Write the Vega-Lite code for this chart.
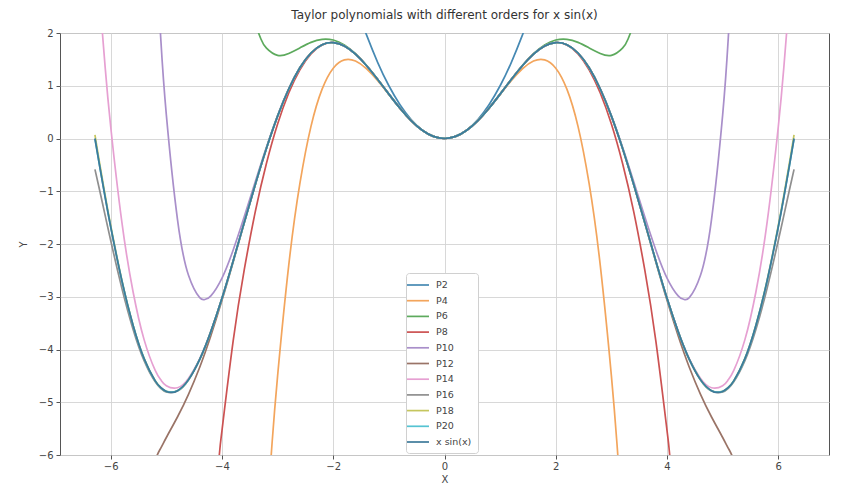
{
"$schema": "https://vega.github.io/schema/vega-lite/v6.json",
"width": 769, "height": 422,
"autosize": {"type": "none"},
"padding": {"left": 60, "top": 33, "right": 19, "bottom": 33},
"background": "#ffffff",
"title": {"text": "Taylor polynomials with different orders for x sin(x)", "fontSize": 12, "font": "DejaVu Sans", "fontWeight": "normal", "color": "#333333", "offset": 6},
"config": {
  "view": {"stroke": "#555555", "strokeWidth": 1},
  "axis": {"domain": false, "grid": true, "gridColor": "#d4d4d4", "gridWidth": 0.9, "tickColor": "#555555", "tickSize": 4, "labelFont": "DejaVu Sans", "labelFontSize": 10, "labelColor": "#444444", "titleFont": "DejaVu Sans", "titleFontSize": 10, "titleFontWeight": "normal", "titleColor": "#444444"}
},
"data": {"values": [
{"s":"P2","x":-1.5,"y":2.25},{"s":"P2","x":-1.4,"y":1.96},{"s":"P2","x":-1.2,"y":1.44},{"s":"P2","x":-1,"y":1},{"s":"P2","x":-0.8,"y":0.64},{"s":"P2","x":-0.6,"y":0.36},{"s":"P2","x":-0.4,"y":0.16},{"s":"P2","x":-0.2,"y":0.04},{"s":"P2","x":0,"y":0},{"s":"P2","x":0.2,"y":0.04},{"s":"P2","x":0.4,"y":0.16},{"s":"P2","x":0.6,"y":0.36},{"s":"P2","x":0.8,"y":0.64},{"s":"P2","x":1,"y":1},{"s":"P2","x":1.2,"y":1.44},{"s":"P2","x":1.4,"y":1.96},{"s":"P2","x":1.5,"y":2.25},

{"s":"P4","x":-3.2,"y":-7.2363},{"s":"P4","x":-3.1,"y":-5.782},{"s":"P4","x":-3,"y":-4.5},{"s":"P4","x":-2.8,"y":-2.4043},{"s":"P4","x":-2.6,"y":-0.8563},{"s":"P4","x":-2.4,"y":0.2304},{"s":"P4","x":-2.2,"y":0.9357},{"s":"P4","x":-2,"y":1.3333},{"s":"P4","x":-1.8,"y":1.4904},{"s":"P4","x":-1.6,"y":1.4677},{"s":"P4","x":-1.4,"y":1.3197},{"s":"P4","x":-1.2,"y":1.0944},{"s":"P4","x":-1,"y":0.8333},{"s":"P4","x":-0.8,"y":0.5717},{"s":"P4","x":-0.6,"y":0.3384},{"s":"P4","x":-0.4,"y":0.1557},{"s":"P4","x":-0.2,"y":0.0397},{"s":"P4","x":0,"y":0},{"s":"P4","x":0.2,"y":0.0397},{"s":"P4","x":0.4,"y":0.1557},{"s":"P4","x":0.6,"y":0.3384},{"s":"P4","x":0.8,"y":0.5717},{"s":"P4","x":1,"y":0.8333},{"s":"P4","x":1.2,"y":1.0944},{"s":"P4","x":1.4,"y":1.3197},{"s":"P4","x":1.6,"y":1.4677},{"s":"P4","x":1.8,"y":1.4904},{"s":"P4","x":2,"y":1.3333},{"s":"P4","x":2.2,"y":0.9357},{"s":"P4","x":2.4,"y":0.2304},{"s":"P4","x":2.6,"y":-0.8563},{"s":"P4","x":2.8,"y":-2.4043},{"s":"P4","x":3,"y":-4.5},{"s":"P4","x":3.1,"y":-5.782},{"s":"P4","x":3.2,"y":-7.2363},

{"s":"P6","x":-3.4,"y":2.1611},{"s":"P6","x":-3.3,"y":1.8869},{"s":"P6","x":-3.2,"y":1.7116},{"s":"P6","x":-3,"y":1.575},{"s":"P6","x":-2.8,"y":1.6115},{"s":"P6","x":-2.6,"y":1.718},{"s":"P6","x":-2.4,"y":1.8229},{"s":"P6","x":-2.2,"y":1.8806},{"s":"P6","x":-2,"y":1.8667},{"s":"P6","x":-1.8,"y":1.7738},{"s":"P6","x":-1.6,"y":1.6075},{"s":"P6","x":-1.4,"y":1.3825},{"s":"P6","x":-1.2,"y":1.1193},{"s":"P6","x":-1,"y":0.8417},{"s":"P6","x":-0.8,"y":0.5739},{"s":"P6","x":-0.6,"y":0.3388},{"s":"P6","x":-0.4,"y":0.1558},{"s":"P6","x":-0.2,"y":0.0397},{"s":"P6","x":0,"y":0},{"s":"P6","x":0.2,"y":0.0397},{"s":"P6","x":0.4,"y":0.1558},{"s":"P6","x":0.6,"y":0.3388},{"s":"P6","x":0.8,"y":0.5739},{"s":"P6","x":1,"y":0.8417},{"s":"P6","x":1.2,"y":1.1193},{"s":"P6","x":1.4,"y":1.3825},{"s":"P6","x":1.6,"y":1.6075},{"s":"P6","x":1.8,"y":1.7738},{"s":"P6","x":2,"y":1.8667},{"s":"P6","x":2.2,"y":1.8806},{"s":"P6","x":2.4,"y":1.8229},{"s":"P6","x":2.6,"y":1.718},{"s":"P6","x":2.8,"y":1.6115},{"s":"P6","x":3,"y":1.575},{"s":"P6","x":3.2,"y":1.7116},{"s":"P6","x":3.3,"y":1.8869},{"s":"P6","x":3.4,"y":2.1611},

{"s":"P8","x":-4.2,"y":-7.6913},{"s":"P8","x":-4.05,"y":-6.025},{"s":"P8","x":-4,"y":-5.5365},{"s":"P8","x":-3.8,"y":-3.8477},{"s":"P8","x":-3.6,"y":-2.4912},{"s":"P8","x":-3.4,"y":-1.3821},{"s":"P8","x":-3.2,"y":-0.47},{"s":"P8","x":-3,"y":0.2732},{"s":"P8","x":-2.8,"y":0.8619},{"s":"P8","x":-2.6,"y":1.3037},{"s":"P8","x":-2.4,"y":1.6045},{"s":"P8","x":-2.2,"y":1.7717},{"s":"P8","x":-2,"y":1.8159},{"s":"P8","x":-1.8,"y":1.752},{"s":"P8","x":-1.6,"y":1.599},{"s":"P8","x":-1.4,"y":1.3796},{"s":"P8","x":-1.2,"y":1.1184},{"s":"P8","x":-1,"y":0.8415},{"s":"P8","x":-0.8,"y":0.5739},{"s":"P8","x":-0.6,"y":0.3388},{"s":"P8","x":-0.4,"y":0.1558},{"s":"P8","x":-0.2,"y":0.0397},{"s":"P8","x":0,"y":0},{"s":"P8","x":0.2,"y":0.0397},{"s":"P8","x":0.4,"y":0.1558},{"s":"P8","x":0.6,"y":0.3388},{"s":"P8","x":0.8,"y":0.5739},{"s":"P8","x":1,"y":0.8415},{"s":"P8","x":1.2,"y":1.1184},{"s":"P8","x":1.4,"y":1.3796},{"s":"P8","x":1.6,"y":1.599},{"s":"P8","x":1.8,"y":1.752},{"s":"P8","x":2,"y":1.8159},{"s":"P8","x":2.2,"y":1.7717},{"s":"P8","x":2.4,"y":1.6045},{"s":"P8","x":2.6,"y":1.3037},{"s":"P8","x":2.8,"y":0.8619},{"s":"P8","x":3,"y":0.2732},{"s":"P8","x":3.2,"y":-0.47},{"s":"P8","x":3.4,"y":-1.3821},{"s":"P8","x":3.6,"y":-2.4912},{"s":"P8","x":3.8,"y":-3.8477},{"s":"P8","x":4,"y":-5.5365},{"s":"P8","x":4.05,"y":-6.025},{"s":"P8","x":4.2,"y":-7.6913},

{"s":"P10","x":-5.2,"y":3.6994},{"s":"P10","x":-5.1,"y":1.8879},{"s":"P10","x":-5,"y":0.4482},{"s":"P10","x":-4.8,"y":-1.5317},{"s":"P10","x":-4.6,"y":-2.5988},{"s":"P10","x":-4.4,"y":-3.0176},{"s":"P10","x":-4.3,"y":-3.0473},{"s":"P10","x":-4.2,"y":-2.9844},{"s":"P10","x":-4,"y":-2.6469},{"s":"P10","x":-3.8,"y":-2.1176},{"s":"P10","x":-3.6,"y":-1.4836},{"s":"P10","x":-3.4,"y":-0.8132},{"s":"P10","x":-3.2,"y":-0.1597},{"s":"P10","x":-3,"y":0.4359},{"s":"P10","x":-2.8,"y":0.9435},{"s":"P10","x":-2.6,"y":1.3426},{"s":"P10","x":-2.4,"y":1.622},{"s":"P10","x":-2.2,"y":1.779},{"s":"P10","x":-2,"y":1.8187},{"s":"P10","x":-1.8,"y":1.753},{"s":"P10","x":-1.6,"y":1.5993},{"s":"P10","x":-1.4,"y":1.3796},{"s":"P10","x":-1.2,"y":1.1184},{"s":"P10","x":-1,"y":0.8415},{"s":"P10","x":-0.8,"y":0.5739},{"s":"P10","x":-0.6,"y":0.3388},{"s":"P10","x":-0.4,"y":0.1558},{"s":"P10","x":-0.2,"y":0.0397},{"s":"P10","x":0,"y":0},{"s":"P10","x":0.2,"y":0.0397},{"s":"P10","x":0.4,"y":0.1558},{"s":"P10","x":0.6,"y":0.3388},{"s":"P10","x":0.8,"y":0.5739},{"s":"P10","x":1,"y":0.8415},{"s":"P10","x":1.2,"y":1.1184},{"s":"P10","x":1.4,"y":1.3796},{"s":"P10","x":1.6,"y":1.5993},{"s":"P10","x":1.8,"y":1.753},{"s":"P10","x":2,"y":1.8187},{"s":"P10","x":2.2,"y":1.779},{"s":"P10","x":2.4,"y":1.622},{"s":"P10","x":2.6,"y":1.3426},{"s":"P10","x":2.8,"y":0.9435},{"s":"P10","x":3,"y":0.4359},{"s":"P10","x":3.2,"y":-0.1597},{"s":"P10","x":3.4,"y":-0.8132},{"s":"P10","x":3.6,"y":-1.4836},{"s":"P10","x":3.8,"y":-2.1176},{"s":"P10","x":4,"y":-2.6469},{"s":"P10","x":4.2,"y":-2.9844},{"s":"P10","x":4.3,"y":-3.0473},{"s":"P10","x":4.4,"y":-3.0176},{"s":"P10","x":4.6,"y":-2.5988},{"s":"P10","x":4.8,"y":-1.5317},{"s":"P10","x":5,"y":0.4482},{"s":"P10","x":5.1,"y":1.8879},{"s":"P10","x":5.2,"y":3.6994},

{"s":"P12","x":-5.4,"y":-6.6915},{"s":"P12","x":-5.2,"y":-6.0929},{"s":"P12","x":-5.1,"y":-5.869},{"s":"P12","x":-5,"y":-5.6681},{"s":"P12","x":-4.8,"y":-5.2792},{"s":"P12","x":-4.6,"y":-4.8475},{"s":"P12","x":-4.4,"y":-4.3367},{"s":"P12","x":-4.3,"y":-4.0484},{"s":"P12","x":-4.2,"y":-3.7392},{"s":"P12","x":-4,"y":-3.0672},{"s":"P12","x":-3.8,"y":-2.3447},{"s":"P12","x":-3.6,"y":-1.6024},{"s":"P12","x":-3.4,"y":-0.873},{"s":"P12","x":-3.2,"y":-0.1886},{"s":"P12","x":-3,"y":0.4226},{"s":"P12","x":-2.8,"y":0.9377},{"s":"P12","x":-2.6,"y":1.3402},{"s":"P12","x":-2.4,"y":1.6211},{"s":"P12","x":-2.2,"y":1.7787},{"s":"P12","x":-2,"y":1.8186},{"s":"P12","x":-1.8,"y":1.7529},{"s":"P12","x":-1.6,"y":1.5993},{"s":"P12","x":-1.4,"y":1.3796},{"s":"P12","x":-1.2,"y":1.1184},{"s":"P12","x":-1,"y":0.8415},{"s":"P12","x":-0.8,"y":0.5739},{"s":"P12","x":-0.6,"y":0.3388},{"s":"P12","x":-0.4,"y":0.1558},{"s":"P12","x":-0.2,"y":0.0397},{"s":"P12","x":0,"y":0},{"s":"P12","x":0.2,"y":0.0397},{"s":"P12","x":0.4,"y":0.1558},{"s":"P12","x":0.6,"y":0.3388},{"s":"P12","x":0.8,"y":0.5739},{"s":"P12","x":1,"y":0.8415},{"s":"P12","x":1.2,"y":1.1184},{"s":"P12","x":1.4,"y":1.3796},{"s":"P12","x":1.6,"y":1.5993},{"s":"P12","x":1.8,"y":1.7529},{"s":"P12","x":2,"y":1.8186},{"s":"P12","x":2.2,"y":1.7787},{"s":"P12","x":2.4,"y":1.6211},{"s":"P12","x":2.6,"y":1.3402},{"s":"P12","x":2.8,"y":0.9377},{"s":"P12","x":3,"y":0.4226},{"s":"P12","x":3.2,"y":-0.1886},{"s":"P12","x":3.4,"y":-0.873},{"s":"P12","x":3.6,"y":-1.6024},{"s":"P12","x":3.8,"y":-2.3447},{"s":"P12","x":4,"y":-3.0672},{"s":"P12","x":4.2,"y":-3.7392},{"s":"P12","x":4.3,"y":-4.0484},{"s":"P12","x":4.4,"y":-4.3367},{"s":"P12","x":4.6,"y":-4.8475},{"s":"P12","x":4.8,"y":-5.2792},{"s":"P12","x":5,"y":-5.6681},{"s":"P12","x":5.1,"y":-5.869},{"s":"P12","x":5.2,"y":-6.0929},{"s":"P12","x":5.4,"y":-6.6915},

{"s":"P14","x":-6.2,"y":2.6682},{"s":"P14","x":-6.1,"y":1.3532},{"s":"P14","x":-6,"y":0.223},{"s":"P14","x":-5.8,"y":-1.5815},{"s":"P14","x":-5.6,"y":-2.8952},{"s":"P14","x":-5.4,"y":-3.8126},{"s":"P14","x":-5.2,"y":-4.3955},{"s":"P14","x":-5.1,"y":-4.5757},{"s":"P14","x":-5,"y":-4.6879},{"s":"P14","x":-4.8,"y":-4.7257},{"s":"P14","x":-4.6,"y":-4.5425},{"s":"P14","x":-4.4,"y":-4.173},{"s":"P14","x":-4.3,"y":-3.9297},{"s":"P14","x":-4.2,"y":-3.6539},{"s":"P14","x":-4,"y":-3.0241},{"s":"P14","x":-3.8,"y":-2.3237},{"s":"P14","x":-3.6,"y":-1.5925},{"s":"P14","x":-3.4,"y":-0.8686},{"s":"P14","x":-3.2,"y":-0.1867},{"s":"P14","x":-3,"y":0.4234},{"s":"P14","x":-2.8,"y":0.938},{"s":"P14","x":-2.6,"y":1.3403},{"s":"P14","x":-2.4,"y":1.6211},{"s":"P14","x":-2.2,"y":1.7787},{"s":"P14","x":-2,"y":1.8186},{"s":"P14","x":-1.8,"y":1.7529},{"s":"P14","x":-1.6,"y":1.5993},{"s":"P14","x":-1.4,"y":1.3796},{"s":"P14","x":-1.2,"y":1.1184},{"s":"P14","x":-1,"y":0.8415},{"s":"P14","x":-0.8,"y":0.5739},{"s":"P14","x":-0.6,"y":0.3388},{"s":"P14","x":-0.4,"y":0.1558},{"s":"P14","x":-0.2,"y":0.0397},{"s":"P14","x":0,"y":0},{"s":"P14","x":0.2,"y":0.0397},{"s":"P14","x":0.4,"y":0.1558},{"s":"P14","x":0.6,"y":0.3388},{"s":"P14","x":0.8,"y":0.5739},{"s":"P14","x":1,"y":0.8415},{"s":"P14","x":1.2,"y":1.1184},{"s":"P14","x":1.4,"y":1.3796},{"s":"P14","x":1.6,"y":1.5993},{"s":"P14","x":1.8,"y":1.7529},{"s":"P14","x":2,"y":1.8186},{"s":"P14","x":2.2,"y":1.7787},{"s":"P14","x":2.4,"y":1.6211},{"s":"P14","x":2.6,"y":1.3403},{"s":"P14","x":2.8,"y":0.938},{"s":"P14","x":3,"y":0.4234},{"s":"P14","x":3.2,"y":-0.1867},{"s":"P14","x":3.4,"y":-0.8686},{"s":"P14","x":3.6,"y":-1.5925},{"s":"P14","x":3.8,"y":-2.3237},{"s":"P14","x":4,"y":-3.0241},{"s":"P14","x":4.2,"y":-3.6539},{"s":"P14","x":4.3,"y":-3.9297},{"s":"P14","x":4.4,"y":-4.173},{"s":"P14","x":4.6,"y":-4.5425},{"s":"P14","x":4.8,"y":-4.7257},{"s":"P14","x":5,"y":-4.6879},{"s":"P14","x":5.1,"y":-4.5757},{"s":"P14","x":5.2,"y":-4.3955},{"s":"P14","x":5.4,"y":-3.8126},{"s":"P14","x":5.6,"y":-2.8952},{"s":"P14","x":5.8,"y":-1.5815},{"s":"P14","x":6,"y":0.223},{"s":"P14","x":6.1,"y":1.3532},{"s":"P14","x":6.2,"y":2.6682},

{"s":"P16","x":-6.2832,"y":-0.5859},{"s":"P16","x":-6.2,"y":-0.9774},{"s":"P16","x":-6.1,"y":-1.4573},{"s":"P16","x":-6,"y":-1.9344},{"s":"P16","x":-5.8,"y":-2.8357},{"s":"P16","x":-5.6,"y":-3.6105},{"s":"P16","x":-5.4,"y":-4.2124},{"s":"P16","x":-5.2,"y":-4.6141},{"s":"P16","x":-5.1,"y":-4.7359},{"s":"P16","x":-5,"y":-4.8046},{"s":"P16","x":-4.8,"y":-4.7864},{"s":"P16","x":-4.6,"y":-4.5732},{"s":"P16","x":-4.4,"y":-4.1881},{"s":"P16","x":-4.3,"y":-3.9402},{"s":"P16","x":-4.2,"y":-3.6611},{"s":"P16","x":-4,"y":-3.0274},{"s":"P16","x":-3.8,"y":-2.3251},{"s":"P16","x":-3.6,"y":-1.5931},{"s":"P16","x":-3.4,"y":-0.8688},{"s":"P16","x":-3.2,"y":-0.1868},{"s":"P16","x":-3,"y":0.4234},{"s":"P16","x":-2.8,"y":0.938},{"s":"P16","x":-2.6,"y":1.3403},{"s":"P16","x":-2.4,"y":1.6211},{"s":"P16","x":-2.2,"y":1.7787},{"s":"P16","x":-2,"y":1.8186},{"s":"P16","x":-1.8,"y":1.7529},{"s":"P16","x":-1.6,"y":1.5993},{"s":"P16","x":-1.4,"y":1.3796},{"s":"P16","x":-1.2,"y":1.1184},{"s":"P16","x":-1,"y":0.8415},{"s":"P16","x":-0.8,"y":0.5739},{"s":"P16","x":-0.6,"y":0.3388},{"s":"P16","x":-0.4,"y":0.1558},{"s":"P16","x":-0.2,"y":0.0397},{"s":"P16","x":0,"y":0},{"s":"P16","x":0.2,"y":0.0397},{"s":"P16","x":0.4,"y":0.1558},{"s":"P16","x":0.6,"y":0.3388},{"s":"P16","x":0.8,"y":0.5739},{"s":"P16","x":1,"y":0.8415},{"s":"P16","x":1.2,"y":1.1184},{"s":"P16","x":1.4,"y":1.3796},{"s":"P16","x":1.6,"y":1.5993},{"s":"P16","x":1.8,"y":1.7529},{"s":"P16","x":2,"y":1.8186},{"s":"P16","x":2.2,"y":1.7787},{"s":"P16","x":2.4,"y":1.6211},{"s":"P16","x":2.6,"y":1.3403},{"s":"P16","x":2.8,"y":0.938},{"s":"P16","x":3,"y":0.4234},{"s":"P16","x":3.2,"y":-0.1868},{"s":"P16","x":3.4,"y":-0.8688},{"s":"P16","x":3.6,"y":-1.5931},{"s":"P16","x":3.8,"y":-2.3251},{"s":"P16","x":4,"y":-3.0274},{"s":"P16","x":4.2,"y":-3.6611},{"s":"P16","x":4.3,"y":-3.9402},{"s":"P16","x":4.4,"y":-4.1881},{"s":"P16","x":4.6,"y":-4.5732},{"s":"P16","x":4.8,"y":-4.7864},{"s":"P16","x":5,"y":-4.8046},{"s":"P16","x":5.1,"y":-4.7359},{"s":"P16","x":5.2,"y":-4.6141},{"s":"P16","x":5.4,"y":-4.2124},{"s":"P16","x":5.6,"y":-3.6105},{"s":"P16","x":5.8,"y":-2.8357},{"s":"P16","x":6,"y":-1.9344},{"s":"P16","x":6.1,"y":-1.4573},{"s":"P16","x":6.2,"y":-0.9774},{"s":"P16","x":6.2832,"y":-0.5859},

{"s":"P18","x":-6.2832,"y":0.069},{"s":"P18","x":-6.2,"y":-0.4622},{"s":"P18","x":-6.1,"y":-1.0728},{"s":"P18","x":-6,"y":-1.6488},{"s":"P18","x":-5.8,"y":-2.6806},{"s":"P18","x":-5.6,"y":-3.5281},{"s":"P18","x":-5.4,"y":-4.1695},{"s":"P18","x":-5.2,"y":-4.5924},{"s":"P18","x":-5.1,"y":-4.7206},{"s":"P18","x":-5,"y":-4.7939},{"s":"P18","x":-4.8,"y":-4.7813},{"s":"P18","x":-4.6,"y":-4.5708},{"s":"P18","x":-4.4,"y":-4.187},{"s":"P18","x":-4.3,"y":-3.9395},{"s":"P18","x":-4.2,"y":-3.6606},{"s":"P18","x":-4,"y":-3.0272},{"s":"P18","x":-3.8,"y":-2.3251},{"s":"P18","x":-3.6,"y":-1.5931},{"s":"P18","x":-3.4,"y":-0.8688},{"s":"P18","x":-3.2,"y":-0.1868},{"s":"P18","x":-3,"y":0.4234},{"s":"P18","x":-2.8,"y":0.938},{"s":"P18","x":-2.6,"y":1.3403},{"s":"P18","x":-2.4,"y":1.6211},{"s":"P18","x":-2.2,"y":1.7787},{"s":"P18","x":-2,"y":1.8186},{"s":"P18","x":-1.8,"y":1.7529},{"s":"P18","x":-1.6,"y":1.5993},{"s":"P18","x":-1.4,"y":1.3796},{"s":"P18","x":-1.2,"y":1.1184},{"s":"P18","x":-1,"y":0.8415},{"s":"P18","x":-0.8,"y":0.5739},{"s":"P18","x":-0.6,"y":0.3388},{"s":"P18","x":-0.4,"y":0.1558},{"s":"P18","x":-0.2,"y":0.0397},{"s":"P18","x":0,"y":0},{"s":"P18","x":0.2,"y":0.0397},{"s":"P18","x":0.4,"y":0.1558},{"s":"P18","x":0.6,"y":0.3388},{"s":"P18","x":0.8,"y":0.5739},{"s":"P18","x":1,"y":0.8415},{"s":"P18","x":1.2,"y":1.1184},{"s":"P18","x":1.4,"y":1.3796},{"s":"P18","x":1.6,"y":1.5993},{"s":"P18","x":1.8,"y":1.7529},{"s":"P18","x":2,"y":1.8186},{"s":"P18","x":2.2,"y":1.7787},{"s":"P18","x":2.4,"y":1.6211},{"s":"P18","x":2.6,"y":1.3403},{"s":"P18","x":2.8,"y":0.938},{"s":"P18","x":3,"y":0.4234},{"s":"P18","x":3.2,"y":-0.1868},{"s":"P18","x":3.4,"y":-0.8688},{"s":"P18","x":3.6,"y":-1.5931},{"s":"P18","x":3.8,"y":-2.3251},{"s":"P18","x":4,"y":-3.0272},{"s":"P18","x":4.2,"y":-3.6606},{"s":"P18","x":4.3,"y":-3.9395},{"s":"P18","x":4.4,"y":-4.187},{"s":"P18","x":4.6,"y":-4.5708},{"s":"P18","x":4.8,"y":-4.7813},{"s":"P18","x":5,"y":-4.7939},{"s":"P18","x":5.1,"y":-4.7206},{"s":"P18","x":5.2,"y":-4.5924},{"s":"P18","x":5.4,"y":-4.1695},{"s":"P18","x":5.6,"y":-3.5281},{"s":"P18","x":5.8,"y":-2.6806},{"s":"P18","x":6,"y":-1.6488},{"s":"P18","x":6.1,"y":-1.0728},{"s":"P18","x":6.2,"y":-0.4622},{"s":"P18","x":6.2832,"y":0.069},

{"s":"P20","x":-6.2832,"y":-0.0066},{"s":"P20","x":-6.2,"y":-0.5201},{"s":"P20","x":-6.1,"y":-1.1146},{"s":"P20","x":-6,"y":-1.6789},{"s":"P20","x":-5.8,"y":-2.6958},{"s":"P20","x":-5.6,"y":-3.5356},{"s":"P20","x":-5.4,"y":-4.1732},{"s":"P20","x":-5.2,"y":-4.5941},{"s":"P20","x":-5.1,"y":-4.7217},{"s":"P20","x":-5,"y":-4.7947},{"s":"P20","x":-4.8,"y":-4.7816},{"s":"P20","x":-4.6,"y":-4.571},{"s":"P20","x":-4.4,"y":-4.1871},{"s":"P20","x":-4.3,"y":-3.9395},{"s":"P20","x":-4.2,"y":-3.6606},{"s":"P20","x":-4,"y":-3.0272},{"s":"P20","x":-3.8,"y":-2.3251},{"s":"P20","x":-3.6,"y":-1.5931},{"s":"P20","x":-3.4,"y":-0.8688},{"s":"P20","x":-3.2,"y":-0.1868},{"s":"P20","x":-3,"y":0.4234},{"s":"P20","x":-2.8,"y":0.938},{"s":"P20","x":-2.6,"y":1.3403},{"s":"P20","x":-2.4,"y":1.6211},{"s":"P20","x":-2.2,"y":1.7787},{"s":"P20","x":-2,"y":1.8186},{"s":"P20","x":-1.8,"y":1.7529},{"s":"P20","x":-1.6,"y":1.5993},{"s":"P20","x":-1.4,"y":1.3796},{"s":"P20","x":-1.2,"y":1.1184},{"s":"P20","x":-1,"y":0.8415},{"s":"P20","x":-0.8,"y":0.5739},{"s":"P20","x":-0.6,"y":0.3388},{"s":"P20","x":-0.4,"y":0.1558},{"s":"P20","x":-0.2,"y":0.0397},{"s":"P20","x":0,"y":0},{"s":"P20","x":0.2,"y":0.0397},{"s":"P20","x":0.4,"y":0.1558},{"s":"P20","x":0.6,"y":0.3388},{"s":"P20","x":0.8,"y":0.5739},{"s":"P20","x":1,"y":0.8415},{"s":"P20","x":1.2,"y":1.1184},{"s":"P20","x":1.4,"y":1.3796},{"s":"P20","x":1.6,"y":1.5993},{"s":"P20","x":1.8,"y":1.7529},{"s":"P20","x":2,"y":1.8186},{"s":"P20","x":2.2,"y":1.7787},{"s":"P20","x":2.4,"y":1.6211},{"s":"P20","x":2.6,"y":1.3403},{"s":"P20","x":2.8,"y":0.938},{"s":"P20","x":3,"y":0.4234},{"s":"P20","x":3.2,"y":-0.1868},{"s":"P20","x":3.4,"y":-0.8688},{"s":"P20","x":3.6,"y":-1.5931},{"s":"P20","x":3.8,"y":-2.3251},{"s":"P20","x":4,"y":-3.0272},{"s":"P20","x":4.2,"y":-3.6606},{"s":"P20","x":4.3,"y":-3.9395},{"s":"P20","x":4.4,"y":-4.1871},{"s":"P20","x":4.6,"y":-4.571},{"s":"P20","x":4.8,"y":-4.7816},{"s":"P20","x":5,"y":-4.7947},{"s":"P20","x":5.1,"y":-4.7217},{"s":"P20","x":5.2,"y":-4.5941},{"s":"P20","x":5.4,"y":-4.1732},{"s":"P20","x":5.6,"y":-3.5356},{"s":"P20","x":5.8,"y":-2.6958},{"s":"P20","x":6,"y":-1.6789},{"s":"P20","x":6.1,"y":-1.1146},{"s":"P20","x":6.2,"y":-0.5201},{"s":"P20","x":6.2832,"y":-0.0066},

{"s":"x sin(x)","x":-6.2832,"y":0},{"s":"x sin(x)","x":-6.2,"y":-0.5152},{"s":"x sin(x)","x":-6.1,"y":-1.1112},{"s":"x sin(x)","x":-6,"y":-1.6765},{"s":"x sin(x)","x":-5.8,"y":-2.6947},{"s":"x sin(x)","x":-5.6,"y":-3.5351},{"s":"x sin(x)","x":-5.4,"y":-4.1729},{"s":"x sin(x)","x":-5.2,"y":-4.594},{"s":"x sin(x)","x":-5.1,"y":-4.7217},{"s":"x sin(x)","x":-5,"y":-4.7946},{"s":"x sin(x)","x":-4.9,"y":-4.814},{"s":"x sin(x)","x":-4.8,"y":-4.7816},{"s":"x sin(x)","x":-4.6,"y":-4.571},{"s":"x sin(x)","x":-4.4,"y":-4.187},{"s":"x sin(x)","x":-4.3,"y":-3.9395},{"s":"x sin(x)","x":-4.2,"y":-3.6606},{"s":"x sin(x)","x":-4,"y":-3.0272},{"s":"x sin(x)","x":-3.8,"y":-2.3251},{"s":"x sin(x)","x":-3.6,"y":-1.5931},{"s":"x sin(x)","x":-3.4,"y":-0.8688},{"s":"x sin(x)","x":-3.2,"y":-0.1868},{"s":"x sin(x)","x":-3,"y":0.4234},{"s":"x sin(x)","x":-2.8,"y":0.938},{"s":"x sin(x)","x":-2.6,"y":1.3403},{"s":"x sin(x)","x":-2.4,"y":1.6211},{"s":"x sin(x)","x":-2.2,"y":1.7787},{"s":"x sin(x)","x":-2,"y":1.8186},{"s":"x sin(x)","x":-1.8,"y":1.7529},{"s":"x sin(x)","x":-1.6,"y":1.5993},{"s":"x sin(x)","x":-1.4,"y":1.3796},{"s":"x sin(x)","x":-1.2,"y":1.1184},{"s":"x sin(x)","x":-1,"y":0.8415},{"s":"x sin(x)","x":-0.8,"y":0.5739},{"s":"x sin(x)","x":-0.6,"y":0.3388},{"s":"x sin(x)","x":-0.4,"y":0.1558},{"s":"x sin(x)","x":-0.2,"y":0.0397},{"s":"x sin(x)","x":0,"y":0},{"s":"x sin(x)","x":0.2,"y":0.0397},{"s":"x sin(x)","x":0.4,"y":0.1558},{"s":"x sin(x)","x":0.6,"y":0.3388},{"s":"x sin(x)","x":0.8,"y":0.5739},{"s":"x sin(x)","x":1,"y":0.8415},{"s":"x sin(x)","x":1.2,"y":1.1184},{"s":"x sin(x)","x":1.4,"y":1.3796},{"s":"x sin(x)","x":1.6,"y":1.5993},{"s":"x sin(x)","x":1.8,"y":1.7529},{"s":"x sin(x)","x":2,"y":1.8186},{"s":"x sin(x)","x":2.2,"y":1.7787},{"s":"x sin(x)","x":2.4,"y":1.6211},{"s":"x sin(x)","x":2.6,"y":1.3403},{"s":"x sin(x)","x":2.8,"y":0.938},{"s":"x sin(x)","x":3,"y":0.4234},{"s":"x sin(x)","x":3.2,"y":-0.1868},{"s":"x sin(x)","x":3.4,"y":-0.8688},{"s":"x sin(x)","x":3.6,"y":-1.5931},{"s":"x sin(x)","x":3.8,"y":-2.3251},{"s":"x sin(x)","x":4,"y":-3.0272},{"s":"x sin(x)","x":4.2,"y":-3.6606},{"s":"x sin(x)","x":4.3,"y":-3.9395},{"s":"x sin(x)","x":4.4,"y":-4.187},{"s":"x sin(x)","x":4.6,"y":-4.571},{"s":"x sin(x)","x":4.8,"y":-4.7816},{"s":"x sin(x)","x":4.9,"y":-4.814},{"s":"x sin(x)","x":5,"y":-4.7946},{"s":"x sin(x)","x":5.1,"y":-4.7217},{"s":"x sin(x)","x":5.2,"y":-4.594},{"s":"x sin(x)","x":5.4,"y":-4.1729},{"s":"x sin(x)","x":5.6,"y":-3.5351},{"s":"x sin(x)","x":5.8,"y":-2.6947},{"s":"x sin(x)","x":6,"y":-1.6765},{"s":"x sin(x)","x":6.1,"y":-1.1112},{"s":"x sin(x)","x":6.2,"y":-0.5152},{"s":"x sin(x)","x":6.2832,"y":0}
]},
"mark": {"type": "line", "clip": true, "interpolate": "natural", "strokeWidth": 1.7},
"encoding": {
  "x": {"field": "x", "type": "quantitative", "title": "X", "scale": {"domain": [-6.9115, 6.9115], "nice": false, "zero": false}, "axis": {"values": [-6, -4, -2, 0, 2, 4, 6], "labelPadding": 2, "titlePadding": 3}},
  "y": {"field": "y", "type": "quantitative", "title": "Y", "scale": {"domain": [-6, 2], "nice": false, "zero": false}, "axis": {"values": [-6, -5, -4, -3, -2, -1, 0, 1, 2], "labelPadding": 3, "titlePadding": 10}},
  "color": {"field": "s", "type": "nominal",
    "scale": {"domain": ["P2","P4","P6","P8","P10","P12","P14","P16","P18","P20","x sin(x)"],
              "range": ["#4689b3","#f3a55c","#5daa5d","#cc5252","#a98fca","#9a7467","#e6a0d2","#8f8f8f","#c5c65e","#55c3d2","#3e7a9a"]},
    "legend": {"title": null, "orient": "none", "legendX": 346, "legendY": 240, "symbolType": "M-2.2,0L2.2,0", "symbolSize": 100, "symbolStrokeWidth": 1.7, "labelFont": "DejaVu Sans", "labelFontSize": 9.5, "labelColor": "#444444", "labelOffset": 12, "rowPadding": 4.7, "padding": 6, "fillColor": "#ffffff", "strokeColor": "#d0d0d0", "cornerRadius": 3}
  }
}
}
